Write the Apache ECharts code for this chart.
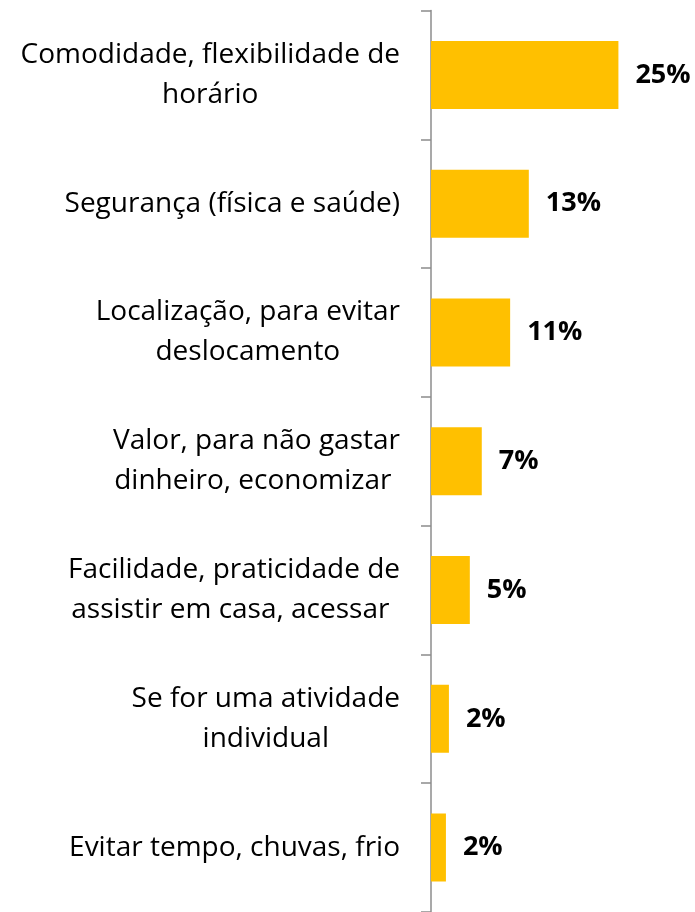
<!DOCTYPE html>
<html>
<head>
<meta charset="utf-8">
<script src="https://cdn.jsdelivr.net/npm/echarts@6/dist/echarts.min.js"></script>
<style>
html,body{margin:0;padding:0;background:#fff;}
#chart{width:695px;height:912px;}
</style>
</head>
<body>
<div id="chart"></div>
<script>
const categories = [
  "Comodidade, flexibilidade de\nhorário",
  "Segurança (física e saúde)",
  "Localização, para evitar\ndeslocamento",
  "Valor, para não gastar\ndinheiro, economizar ",
  "Facilidade, praticidade de\nassistir em casa, acessar ",
  "Se for uma atividade\nindividual",
  "Evitar tempo, chuvas, frio"
];
const values = [25.1, 13.1, 10.6, 6.8, 5.2, 2.4, 2.0];

const FONT = "'Open Sans', 'Noto Sans', sans-serif";
const chart = echarts.init(document.getElementById('chart'), null, {renderer: 'canvas'});
chart.setOption({
  animation: false,
  backgroundColor: '#ffffff',
  grid: {left: 431, right: 40, top: 10.5, height: 905, containLabel: false},
  xAxis: {
    type: 'value', min: 0, max: 30, show: false,
    splitLine: {show: false}
  },
  yAxis: {
    type: 'category',
    data: categories,
    inverse: true,
    axisLine: {show: true, lineStyle: {color: '#8c8c8c', width: 1.5}},
    axisTick: {show: true, length: 10, interval: 0, lineStyle: {color: '#8c8c8c', width: 1.5}},
    axisLabel: {
      interval: 0,
      margin: 31,
      align: 'right',
      verticalAlign: 'middle',
      formatter: function (v) {
        return v.split('\n').map(function (l) { return '{c|' + l + '}'; }).join('\n');
      },
      rich: {
        c: {align: 'center', fontSize: 28, lineHeight: 40, fontFamily: FONT, color: '#000000'}
      }
    }
  },
  series: [{
    type: 'bar',
    data: values,
    barWidth: 68,
    itemStyle: {color: '#FFC000'},
    label: {
      show: true,
      position: 'right',
      distance: 17,
      fontFamily: FONT,
      fontWeight: 'bold',
      fontSize: 27,
      color: '#000000',
      formatter: function (p) { return Math.round(p.value) + '%'; }
    }
  }]
});
</script>
</body>
</html>
